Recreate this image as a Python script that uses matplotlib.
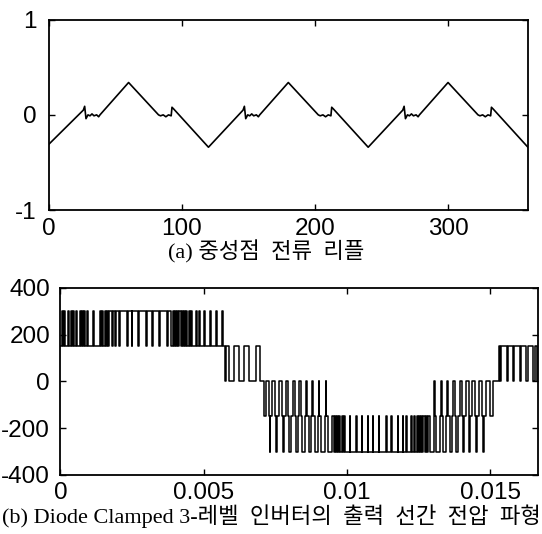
import matplotlib
matplotlib.use('Agg')
import matplotlib.pyplot as plt

plt.rcParams['axes.unicode_minus'] = False

# ---------------- (a) neutral-point current ripple ----------------
angle_deg = [0, 26, 27, 28, 29.5, 31, 32.5, 34, 36, 37.5, 38.5, 60, 82.5, 84, 86, 88, 90, 92, 92.6, 94, 120,
             146, 147, 148, 149.5, 151, 152.5, 154, 156, 157.5, 158.5, 180, 202.5, 204, 206, 208, 210, 212, 212.6, 214, 240,
             266, 267, 268, 269.5, 271, 272.5, 274, 276, 277.5, 278.5, 300, 322.5, 324, 326, 328, 330, 332, 332.6, 334, 360]
ripple = [-0.31, 0.05, 0.09, -0.04, 0.0, -0.01, 0.01, -0.01, 0.0, -0.02, 0.0, 0.34, 0.0, -0.01, 0.0, -0.02, 0.0, -0.01, 0.08, 0.06, -0.34,
          0.05, 0.09, -0.04, 0.0, -0.01, 0.01, -0.01, 0.0, -0.02, 0.0, 0.34, 0.0, -0.01, 0.0, -0.02, 0.0, -0.01, 0.08, 0.06, -0.34,
          0.05, 0.09, -0.04, 0.0, -0.01, 0.01, -0.01, 0.0, -0.02, 0.0, 0.34, 0.0, -0.01, 0.0, -0.02, 0.0, -0.01, 0.08, 0.06, -0.34]
xticks_a = [0, 100, 200, 300]
yticks_a = [-1, 0, 1]

# ---------------- (b) line-to-line output voltage ----------------
# two-level segments: switching instants [ms]; the level toggles at every instant
segA_edges_ms = [0.05, 0.08, 0.14, 0.17, 0.26, 0.29, 0.36, 0.39, 0.43, 0.46, 0.53, 0.56, 0.67, 0.70,
                 0.76, 0.79, 0.82, 0.85, 0.94, 0.97, 1.13, 1.16,
                 1.38, 1.42, 1.46, 1.50, 1.54, 1.58, 1.62, 1.66, 1.70,
                 1.80, 1.83, 1.90, 1.93, 2.04, 2.07, 2.31, 2.34, 2.48, 2.51, 2.71, 2.74, 2.99, 3.02,
                 3.19, 3.22, 3.43, 3.46, 3.73, 3.76,
                 3.87, 3.91, 3.95, 3.99, 4.03, 4.07, 4.11, 4.15, 4.19, 4.23, 4.27, 4.31, 4.35, 4.39,
                 4.43, 4.47, 4.52,
                 4.57, 4.60, 4.72, 4.75, 4.83, 4.86, 5.00, 5.03, 5.21, 5.24, 5.42, 5.45, 5.64, 5.67]
segA_levels = (150, 300)          # (level before first edge, level after first edge)
segB_edges_ms = [5.73, 5.79, 5.88, 6.06, 6.22, 6.39, 6.57, 6.81, 6.95]
segB_levels = (150, 0)
# three-level segment C: (instant [ms], new level [V])
segC_time_ms = [7.10, 7.18, 7.28, 7.31, 7.33, 7.40, 7.50, 7.53, 7.57, 7.63, 7.72, 7.75, 7.80, 7.86,
                7.95, 7.99, 8.05, 8.10, 8.17, 8.22, 8.29, 8.34, 8.39, 8.44, 8.53, 8.57, 8.61, 8.66,
                8.76, 8.79, 8.82, 8.88, 9.00, 9.02, 9.04, 9.10, 9.23, 9.25, 9.26, 9.32]
segC_level = [-150, 0, -150, -300, -150, 0, -150, -300, -150, 0, -150, -300, -150, 0,
              -150, -300, -150, 0, -150, -300, -150, 0, -150, -300, -150, 0, -150, -300,
              -150, 0, -150, -300, -150, 0, -150, -300, -150, 0, -150, -300]
segD_edges_ms = [9.45, 9.49, 9.53, 9.57, 9.61, 9.65, 9.69, 9.73, 9.77, 9.81, 9.85, 9.89, 9.93,
                 10.09, 10.12, 10.32, 10.34, 10.52, 10.54, 10.72, 10.74, 10.90, 10.92,
                 11.11, 11.13, 11.37, 11.39, 11.54, 11.56, 11.77, 11.79, 11.94, 11.96,
                 12.06, 12.08, 12.24, 12.26, 12.35, 12.39, 12.43, 12.47, 12.51, 12.55,
                 12.59, 12.63, 12.67, 12.71, 12.75, 12.79, 12.83]
segD_levels = (-150, -300)
segE_time_ms = [12.87, 12.90, 13.03, 13.05, 13.07, 13.12, 13.24, 13.27, 13.30, 13.35, 13.45, 13.49,
                13.53, 13.58, 13.66, 13.71, 13.77, 13.81, 13.88, 13.93, 14.01, 14.04, 14.09, 14.15,
                14.25, 14.27, 14.31, 14.37, 14.48, 14.50, 14.53, 14.60, 14.72, 14.74, 14.78, 14.84,
                14.98, 15.10]
segE_level = [-150, -300, -150, 0, -150, -300, -150, 0, -150, -300, -150, 0,
              -150, -300, -150, 0, -150, -300, -150, 0, -150, -300, -150, 0,
              -150, -300, -150, 0, -150, -300, -150, 0, -150, -300, -150, 0,
              -150, 0]
segG_edges_ms = [15.31, 15.34, 15.38, 15.58, 15.62, 15.80, 15.84, 16.03, 16.07, 16.26, 16.31, 16.50, 16.56, 16.62]
segG_levels = (0, 150)
t_end_s = 1 / 60
xticks_b = [0, 0.005, 0.01, 0.015]
xticklabels_b = ['0', '0.005', '0.01', '0.015']
yticks_b = [-400, -200, 0, 200, 400]

caption_a = '(a) 중성점  전류  리플'
caption_b = '(b) Diode Clamped 3-레벨  인버터의  출력  선간  전압  파형'

# ---------------- build step waveform ----------------
sw_t = [0.0]
sw_v = [segA_levels[0]]


def add_toggle(edges, levels):
    for i, e in enumerate(edges):
        sw_t.append(e / 1000.0)
        sw_v.append(levels[(i + 1) % 2])


def add_explicit(times, levels):
    for e, lv in zip(times, levels):
        sw_t.append(e / 1000.0)
        sw_v.append(lv)


add_toggle(segA_edges_ms, segA_levels)
add_toggle(segB_edges_ms, segB_levels)
add_explicit(segC_time_ms, segC_level)
add_toggle(segD_edges_ms, segD_levels)
add_explicit(segE_time_ms, segE_level)
add_toggle(segG_edges_ms, segG_levels)
sw_t.append(t_end_s)
sw_v.append(sw_v[-1])

# ---------------- figure ----------------
tick_family = ['Liberation Sans', 'DejaVu Sans']
cap_family = ['Liberation Serif', 'Noto Sans CJK KR', 'DejaVu Sans']

fig = plt.figure(figsize=(5.42, 5.34), dpi=100)
ax1 = fig.add_axes([0.0899, 0.6067, 0.974 - 0.0899, 0.9631 - 0.6067])
ax2 = fig.add_axes([0.1116, 0.1105, 0.9926 - 0.1116, 0.4612 - 0.1105])

ax1.plot(angle_deg, ripple, color='black', lw=1.2)
ax1.set_xlim(0, 360)
ax1.set_ylim(-1, 1)
ax1.set_xticks(xticks_a)
ax1.set_yticks(yticks_a)

ax2.plot(sw_t, sw_v, color='black', lw=1.1, drawstyle='steps-post')
ax2.set_xlim(0, t_end_s)
ax2.set_ylim(-400, 400)
ax2.set_xticks(xticks_b)
ax2.set_xticklabels(xticklabels_b)
ax2.set_yticks(yticks_b)

for ax, xp, yp in ((ax1, 6.0, 9.0), (ax2, 5.0, 7.5)):
    for s in ax.spines.values():
        s.set_linewidth(1.3)
    ax.tick_params(direction='in', length=4, width=1.0, top=True, right=True)
    ax.tick_params(axis='x', pad=xp)
    ax.tick_params(axis='y', pad=yp)
    for lab in ax.get_xticklabels() + ax.get_yticklabels():
        lab.set_fontfamily(tick_family)
        lab.set_fontsize(17.5)

fig.text(0.492, 1 - 258.0 / 534, caption_a, ha='center', va='baseline', fontsize=16, family=cap_family)
fig.text(0.5, 1 - 523.0 / 534, caption_b, ha='center', va='baseline', fontsize=16, family=cap_family)

fig.savefig('out.png', dpi=100)
